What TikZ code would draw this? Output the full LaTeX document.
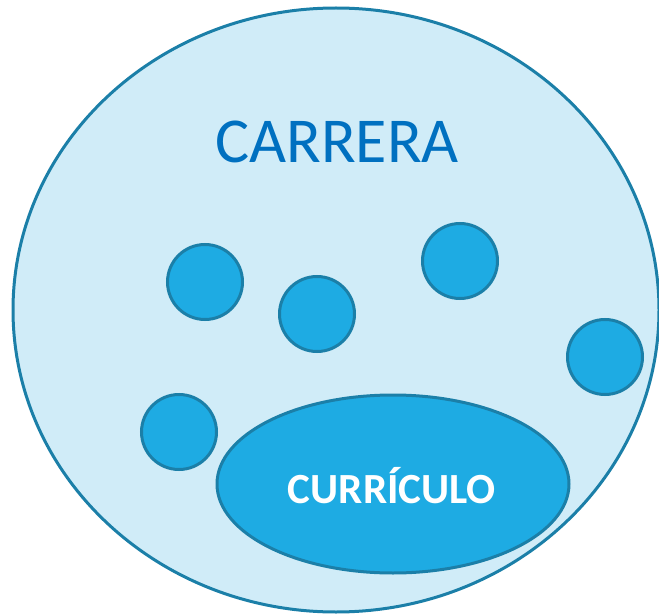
\documentclass[tikz,border=0pt]{standalone}
\usepackage{fontspec}
\setmainfont{Carlito}
\definecolor{bigfill}{HTML}{D0ECF8}
\definecolor{edge}{HTML}{1B7FA8}
\definecolor{smallfill}{HTML}{1EABE3}
\definecolor{titleblue}{HTML}{0070C0}
\begin{document}
\begin{tikzpicture}[x=1pt,y=-1pt,
  bubble/.style={circle,draw=edge,fill=smallfill,line width=3pt,minimum size=75pt,inner sep=0pt}]
\useasboundingbox (0,0) rectangle (659,615);
\draw[edge,fill=bigfill,line width=3pt] (336,310) ellipse [x radius=323, y radius=302];
\node[text=titleblue,font=\fontsize{64}{70}\selectfont] (carrera) at (337,142) {CARRERA};
\node[bubble] (b1) at (205,282) {};
\node[bubble] (b2) at (317,314) {};
\node[bubble] (b3) at (460,261) {};
\node[bubble] (b4) at (605,357) {};
\node[bubble] (b5) at (179,432) {};
\draw[edge,fill=smallfill,line width=3pt] (393,484) ellipse [x radius=176, y radius=89];
\node[text=white,font=\bfseries\fontsize{43}{46}\selectfont] (curr) at (392,486) {CURRÍCULO};
\end{tikzpicture}
\end{document}
